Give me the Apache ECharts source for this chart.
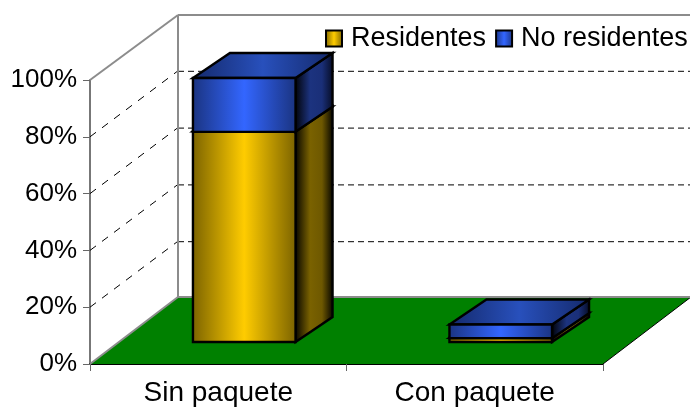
<!DOCTYPE html>
<html>
<head>
<meta charset="utf-8">
<style>html,body{margin:0;padding:0;background:#fff}#c{width:690px;height:407px}</style>
<script src="https://cdn.jsdelivr.net/npm/echarts@6/dist/echarts.min.js"></script>
</head>
<body>
<div id="c"></div>
<script>
var categories = ['Sin paquete', 'Con paquete'];
var residentes = [74, 1.3];
var noResidentes = [18.8, 4.7];
var yTicks = [0, 20, 40, 60, 80, 100];

var FONT = '"Liberation Sans", Arial, sans-serif';
var DEPTH_X = 88, DEPTH_Y = 66;      // oblique offset of the back wall
var BAR_X = 26, BAR_Y = 22;          // bar front plane, offset from axis plane
var BAR_DX = 37, BAR_DY = 25;        // bar's own depth
var BAR_W = 0.4;                     // bar width as share of the category band

function grad(stops) {
  return new echarts.graphic.LinearGradient(0, 0, 1, 0,
    stops.map(function (s) { return { offset: s[0], color: s[1] }; }));
}
var pal = {
  gold: {
    front: grad([[0, '#7a6200'], [0.5, '#ffcc00'], [1, '#7a6200']]),
    side: grad([[0, '#000000'], [0.4, '#7a6200'], [0.7, '#6e5800'], [1, '#000000']]),
    top: grad([[0, '#665200'], [0.5, '#c9a200'], [1, '#665200']])
  },
  blue: {
    front: grad([[0, '#1a337f'], [0.5, '#3366ff'], [1, '#1a337f']]),
    side: grad([[0, '#000000'], [0.4, '#1c337f'], [0.7, '#1a2f78'], [1, '#050a20']]),
    top: grad([[0, '#14296b'], [0.5, '#2850bc'], [1, '#14296b']])
  }
};

function poly(points, fill) {
  return { type: 'polygon', shape: { points: points },
    style: { fill: fill, stroke: '#000', lineWidth: 2.4, lineJoin: 'miter' } };
}
function barRender(colors) {
  return function (params, api) {
    var cat = api.value(0), b = api.coord([cat, api.value(1)]), t = api.coord([cat, api.value(2)]);
    var w = api.size([1, 0])[0] * BAR_W;
    var x0 = b[0] - w / 2 + BAR_X, x1 = x0 + w;
    var yb = b[1] - BAR_Y, yt = t[1] - BAR_Y - 0.5;
    return { type: 'group', children: [
      poly([[x1, yb], [x1 + BAR_DX, yb - BAR_DY], [x1 + BAR_DX, yt - BAR_DY], [x1, yt]], colors.side),
      poly([[x0, yt], [x1, yt], [x1 + BAR_DX, yt - BAR_DY], [x0 + BAR_DX, yt - BAR_DY]], colors.top),
      poly([[x0, yb], [x1, yb], [x1, yt], [x0, yt]], colors.front)
    ] };
  };
}
function seg(a, b, color, width, dash) {
  return { type: 'line', shape: { x1: a[0], y1: a[1], x2: b[0], y2: b[1] },
    style: { stroke: color, lineWidth: width, lineDash: dash || null } };
}
function wallRender(params, api) {
  var n = categories.length;
  var o = api.coord([0, 0]), band = api.size([1, 0])[0];
  var lx = o[0] - band / 2, rx = lx + band * n, y0 = o[1];
  var yt = api.coord([0, 100])[1];
  var kids = [];
  kids.push({ type: 'polygon', shape: { points: [[lx, y0], [rx, y0], [rx + DEPTH_X, y0 - DEPTH_Y - 1], [lx + DEPTH_X, y0 - DEPTH_Y - 1]] },
    style: { fill: '#008000' } });
  kids.push(seg([rx, y0], [rx + DEPTH_X, y0 - DEPTH_Y - 1], '#000', 1));
  yTicks.forEach(function (v) {
    if (v === 0 || v === 100) return;
    var y = api.coord([0, v])[1];
    kids.push(seg([lx, y], [lx + DEPTH_X, y - DEPTH_Y], '#000', 1, [7.5, 7.5]));
    kids.push(seg([lx + DEPTH_X, y - DEPTH_Y + 0.5], [rx + DEPTH_X, y - DEPTH_Y + 0.5], '#000', 1, [6, 4]));
  });
  var g = '#8c8c8c';
  kids.push(seg([lx, yt], [lx + DEPTH_X, yt - DEPTH_Y + 1], g, 2));
  kids.push(seg([lx + DEPTH_X, yt - DEPTH_Y + 1], [rx + DEPTH_X, yt - DEPTH_Y + 1], g, 2));
  kids.push(seg([lx + DEPTH_X, yt - DEPTH_Y + 1], [lx + DEPTH_X, y0 - DEPTH_Y - 1], g, 2));
  kids.push(seg([lx, y0], [lx + DEPTH_X, y0 - DEPTH_Y - 1], g, 2));
  kids.push(seg([lx + DEPTH_X, y0 - DEPTH_Y - 1], [rx + DEPTH_X, y0 - DEPTH_Y - 1], g, 2));
  return { type: 'group', children: kids };
}

var chart = echarts.init(document.getElementById('c'), null, { renderer: 'canvas' });
chart.setOption({
  animation: false,
  backgroundColor: '#fff',
  grid: { left: 90, width: 513, top: 80, height: 284, containLabel: false },
  legend: {
    show: true, orient: 'horizontal', left: 325, top: 25, width: 365, padding: 0, itemWidth: 16, itemHeight: 16, itemGap: 9,
    selectedMode: false, icon: 'rect',
    textStyle: { fontFamily: FONT, fontSize: 27, color: '#000', padding: [0, 0, 0, 4] },
    data: [
      { name: 'Residentes', itemStyle: { color: pal.gold.front, borderColor: '#000', borderWidth: 2 } },
      { name: 'No residentes', itemStyle: { color: pal.blue.front, borderColor: '#000', borderWidth: 2 } }
    ]
  },
  xAxis: {
    type: 'category', data: categories,
    axisLine: { lineStyle: { color: '#000', width: 2 } },
    axisTick: { show: true, length: 7, lineStyle: { color: '#666', width: 1 } },
    axisLabel: { fontFamily: FONT, fontSize: 28, color: '#000', margin: 15 }
  },
  yAxis: {
    type: 'value', min: 0, max: 100, interval: 20,
    axisLine: { show: true, lineStyle: { color: '#777', width: 2 } },
    axisTick: { show: true, length: 7, lineStyle: { color: '#666', width: 1 } },
    splitLine: { show: false },
    axisLabel: { fontFamily: FONT, fontSize: 26, color: '#000', margin: 13, formatter: '{value}%' }
  },
  series: [
    { type: 'custom', name: 'walls', silent: true, z: 1, renderItem: wallRender,
      encode: { x: 0, y: 1 }, data: [[0, 0]] },
    { type: 'custom', name: 'Residentes', silent: true, z: 2, renderItem: barRender(pal.gold),
      encode: { x: 0, y: [1, 2] },
      data: residentes.map(function (v, i) { return [i, 0, v]; }) },
    { type: 'custom', name: 'No residentes', silent: true, z: 3, renderItem: barRender(pal.blue),
      encode: { x: 0, y: [1, 2] },
      data: noResidentes.map(function (v, i) { return [i, residentes[i], residentes[i] + v]; }) }
  ]
});
</script>
</body>
</html>
